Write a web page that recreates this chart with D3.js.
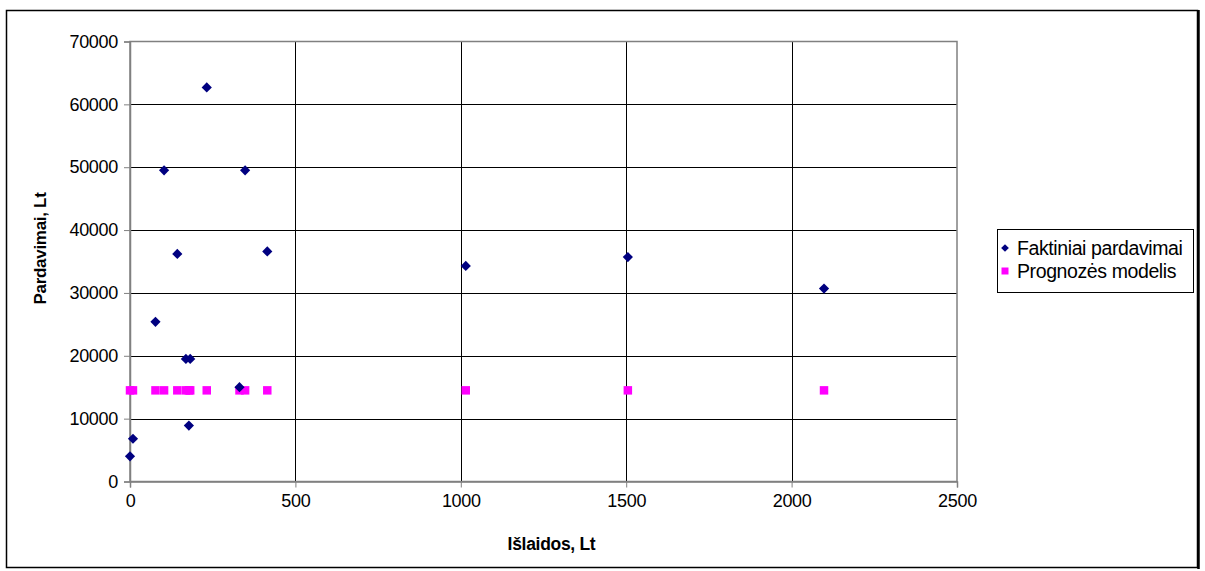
<!DOCTYPE html>
<html>
<head>
<meta charset="utf-8">
<script src="https://cdn.jsdelivr.net/npm/d3@7"></script>
<style>
  html, body { margin: 0; padding: 0; background: #fff; }
  svg { display: block; font-family: "Liberation Sans", Arial, sans-serif; }
</style>
</head>
<body>
<svg id="chart" width="1205" height="571"></svg>
<script>
// duomenys
const islaidos = [0, 9, 77, 103, 143, 169, 178, 182, 232, 331, 348, 415, 1015, 1505, 2098];
const faktiniai = [4000, 6800, 25400, 49500, 36200, 19500, 8900, 19500, 62700, 15000, 49500, 36600, 34300, 35700, 30700];
const prognoze = [14500, 14500, 14500, 14500, 14500, 14500, 14500, 14500, 14500, 14500, 14500, 14500, 14500, 14500, 14500];
const xTicks = [0, 500, 1000, 1500, 2000, 2500];
const yTicks = [0, 10000, 20000, 30000, 40000, 50000, 60000, 70000];
const seriesNames = ['Faktiniai pardavimai', 'Prognozės modelis'];

const svg = d3.select('#chart');
const plot = { left: 130, right: 957, top: 41.5, bottom: 481.5 };

const x = d3.scaleLinear().domain([0, 2500]).range([plot.left, plot.right]);
const y = d3.scaleLinear().domain([0, 70000]).range([plot.bottom, plot.top]);

// rėmelis
svg.append('rect')
  .attr('x', 6.5).attr('y', 10.5)
  .attr('width', 1191).attr('height', 557)
  .attr('fill', 'none').attr('stroke', '#000').attr('stroke-width', 1.5);
svg.append('line')
  .attr('x1', 1198.5).attr('x2', 1198.5).attr('y1', 10).attr('y2', 569)
  .attr('stroke', '#000').attr('stroke-width', 2.5);

// tinklelis
svg.append('g').selectAll('line')
  .data(yTicks.slice(1, -1))
  .enter().append('line')
  .attr('x1', plot.left).attr('x2', plot.right)
  .attr('y1', d => Math.round(y(d)) + 0.5).attr('y2', d => Math.round(y(d)) + 0.5)
  .attr('stroke', '#000').attr('stroke-width', 1);

svg.append('g').selectAll('line')
  .data(xTicks.slice(1, -1))
  .enter().append('line')
  .attr('y1', plot.top).attr('y2', plot.bottom)
  .attr('x1', d => Math.round(x(d)) + 0.5).attr('x2', d => Math.round(x(d)) + 0.5)
  .attr('stroke', '#000').attr('stroke-width', 1);

svg.append('rect')
  .attr('x', plot.left).attr('y', plot.top)
  .attr('width', plot.right - plot.left).attr('height', plot.bottom - plot.top)
  .attr('fill', 'none').attr('stroke', '#808080').attr('stroke-width', 1.5);

// ašys
const xAxis = d3.axisBottom(x).tickValues(xTicks).tickSize(6).tickPadding(7).tickFormat(d3.format('d'));
const yAxis = d3.axisLeft(y).tickValues(yTicks).tickSize(6).tickPadding(6).tickFormat(d3.format('d'));

const gx = svg.append('g').attr('transform', `translate(0,${plot.bottom})`).call(xAxis);
const gy = svg.append('g').attr('transform', `translate(${plot.left},0)`).call(yAxis);

[gx, gy].forEach(g => {
  g.select('.domain').attr('stroke', '#808080').attr('stroke-width', 1.5);
  g.selectAll('.tick line').attr('stroke', '#808080');
  g.selectAll('.tick text')
    .attr('fill', '#000')
    .style('font-size', '18px')
    .style('letter-spacing', '-0.3px')
    .style('font-family', '"Liberation Sans", Arial, sans-serif');
});

// ašių pavadinimai
svg.append('text')
  .attr('x', (plot.left + plot.right) / 2 + 8).attr('y', 550)
  .attr('text-anchor', 'middle')
  .style('font-size', '17.5px').style('font-weight', 'bold')
  .style('letter-spacing', '-0.3px')
  .text('Išlaidos, Lt');

svg.append('text')
  .attr('transform', `translate(46,${(plot.top + plot.bottom) / 2 - 13}) rotate(-90)`)
  .attr('text-anchor', 'middle')
  .style('font-size', '17px').style('font-weight', 'bold')
  .style('letter-spacing', '-0.3px')
  .text('Pardavimai, Lt');

// taškai
const diamond = d3.symbol().type(d3.symbolSquare).size(52);
const square = d3.symbol().type(d3.symbolSquare).size(72);

svg.append('g').selectAll('path')
  .data(islaidos.map((v, i) => [v, prognoze[i]]))
  .enter().append('path')
  .attr('d', square)
  .attr('transform', d => `translate(${x(d[0])},${y(d[1])})`)
  .attr('fill', '#ff00ff');

svg.append('g').selectAll('path')
  .data(islaidos.map((v, i) => [v, faktiniai[i]]))
  .enter().append('path')
  .attr('d', diamond)
  .attr('transform', d => `translate(${x(d[0])},${y(d[1])}) rotate(45)`)
  .attr('fill', '#000080');

// legenda
const lg = svg.append('g').attr('transform', 'translate(997,229)');
lg.append('rect')
  .attr('x', 0.5).attr('y', 0.5).attr('width', 196).attr('height', 63)
  .attr('fill', '#fff').attr('stroke', '#000').attr('stroke-width', 1);

const items = lg.selectAll('g.item')
  .data(seriesNames)
  .enter().append('g')
  .attr('class', 'item')
  .attr('transform', (d, i) => `translate(8,${19 + i * 23})`);

items.append('path')
  .attr('d', (d, i) => i === 0 ? d3.symbol().type(d3.symbolSquare).size(30)() : d3.symbol().type(d3.symbolSquare).size(49)())
  .attr('transform', (d, i) => i === 0 ? 'rotate(45)' : '')
  .attr('fill', (d, i) => i === 0 ? '#000080' : '#ff00ff');

items.append('text')
  .attr('x', 12).attr('dy', '0.35em')
  .style('font-size', '19.5px')
  .style('letter-spacing', '-0.4px')
  .text(d => d);
</script>
</body>
</html>
